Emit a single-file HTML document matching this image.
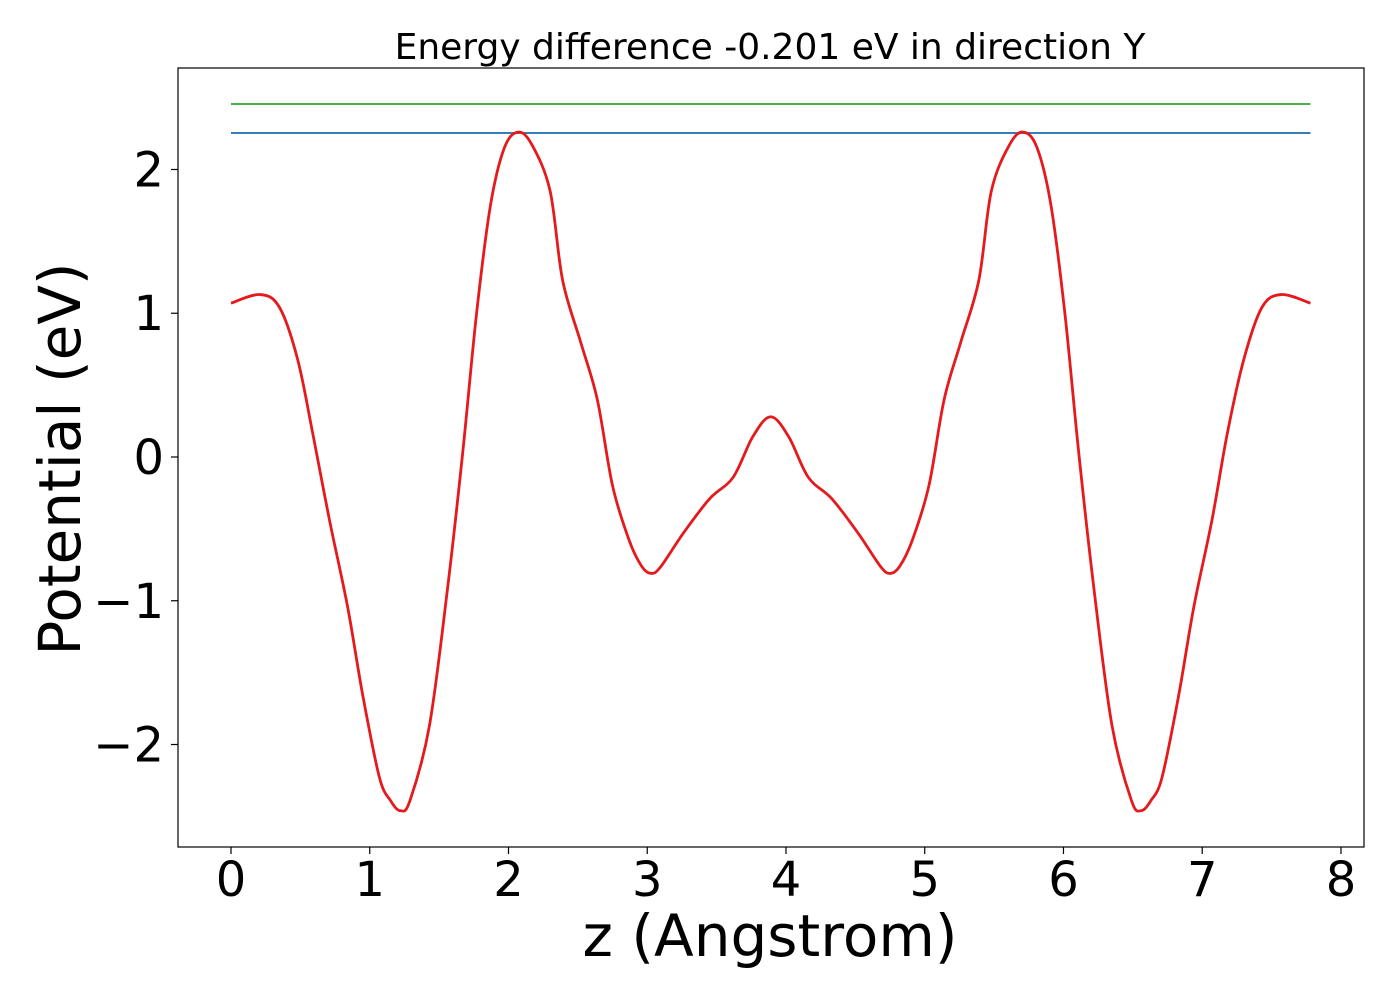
<!DOCTYPE html>
<html><head><meta charset="utf-8"><style>
html,body{margin:0;padding:0;background:#fff;}
svg text{font-family:"DejaVu Sans","Liberation Sans",sans-serif;fill:#000;}
</style></head><body>
<svg id="chart" width="1400" height="1000" xmlns="http://www.w3.org/2000/svg">
<rect x="0" y="0" width="1400" height="1000" fill="#fff"/>
<text x="770" y="59" font-size="36" text-anchor="middle">Energy difference -0.201 eV in direction Y</text>
<g id="plot"></g>
<rect x="178" y="68" width="1186" height="779" fill="none" stroke="#000" stroke-width="1.2"/>
<text x="770" y="956" font-size="58" text-anchor="middle">z (Angstrom)</text>
<text transform="translate(80,459) rotate(-90)" font-size="58" text-anchor="middle">Potential (eV)</text>
</svg>
<script>
const xs=[0,0.21,0.35,0.48,0.59,0.71,0.84,0.95,1.07,1.15,1.22,1.29,1.43,1.56,1.67,1.77,1.87,1.97,2.07,2.17,2.3,2.39,2.52,2.64,2.75,2.87,2.96,3.03,3.1,3.26,3.45,3.62,3.76,3.89,
4.02,4.16,4.33,4.52,4.68,4.75,4.82,4.91,5.03,5.14,5.26,5.39,5.48,5.61,5.71,5.81,5.91,6.01,6.11,6.22,6.35,6.49,6.56,6.63,6.71,6.83,6.94,7.07,7.18,7.3,7.43,7.57,7.78];
const ys=[1.07,1.13,1.04,0.68,0.16,-0.44,-1.04,-1.66,-2.23,-2.39,-2.46,-2.39,-1.87,-0.92,0.03,1.0,1.75,2.15,2.26,2.17,1.85,1.23,0.8,0.4,-0.2,-0.58,-0.76,-0.81,-0.76,-0.53,-0.29,-0.14,0.14,0.28,
0.14,-0.14,-0.29,-0.53,-0.76,-0.81,-0.76,-0.58,-0.2,0.4,0.8,1.23,1.85,2.17,2.26,2.15,1.75,1.0,0.03,-0.92,-1.87,-2.39,-2.46,-2.39,-2.23,-1.66,-1.04,-0.44,0.16,0.68,1.04,1.13,1.07];
const refLevels=[2.456,2.254];
const refColors=["#4daf4a","#377eb8"];
const xTicks=[0,1,2,3,4,5,6,7,8];
const yTicks=[-2,-1,0,1,2];
const xMin=-0.382,xMax=8.166,yMin=-2.713,yMax=2.706;
const L=178,R=1364,T=68,B=847;
function sx(v){return L+(v-xMin)/(xMax-xMin)*(R-L);}
function sy(v){return B-(v-yMin)/(yMax-yMin)*(B-T);}
const NS="http://www.w3.org/2000/svg";
const g=document.getElementById('plot');
function mk(t,a){const e=document.createElementNS(NS,t);for(const k in a)e.setAttribute(k,a[k]);g.appendChild(e);return e;}
const x0=sx(0),x1=sx(xs[xs.length-1]);
refLevels.forEach((v,i)=>{const l=mk('line',{x1:x0,x2:x1,y1:sy(v),y2:sy(v),stroke:refColors[i],'stroke-width':2});

});
const P=xs.map((x,i)=>[sx(x),sy(ys[i])]);
let d='M'+P[0][0]+','+P[0][1];
for(let i=0;i<P.length-1;i++){const p0=P[Math.max(0,i-1)],p1=P[i],p2=P[i+1],p3=P[Math.min(P.length-1,i+2)];
const c1=[p1[0]+(p2[0]-p0[0])/6,p1[1]+(p2[1]-p0[1])/6],c2=[p2[0]-(p3[0]-p1[0])/6,p2[1]-(p3[1]-p1[1])/6];
d+=' C'+c1+' '+c2+' '+p2;}
const c=mk('path',{d:d,fill:'none',stroke:'#e41a1c','stroke-width':2.8,'stroke-linejoin':'round'});


xTicks.forEach(t=>{const x=sx(t);
const tk=mk('line',{x1:x,x2:x,y1:B,y2:B+7,stroke:'#000','stroke-width':1.2});


const tx=mk('text',{x:x,y:B+49,'font-size':48,'text-anchor':'middle'});tx.textContent=t;

});
yTicks.forEach(t=>{const y=sy(t);
const tk=mk('line',{x1:L-7,x2:L,y1:y,y2:y,stroke:'#000','stroke-width':1.2});


const tx=mk('text',{x:L-14,y:y+17,'font-size':48,'text-anchor':'end'});tx.textContent=t<0?'\u2212'+(-t):t;

});
</script>
</body></html>
